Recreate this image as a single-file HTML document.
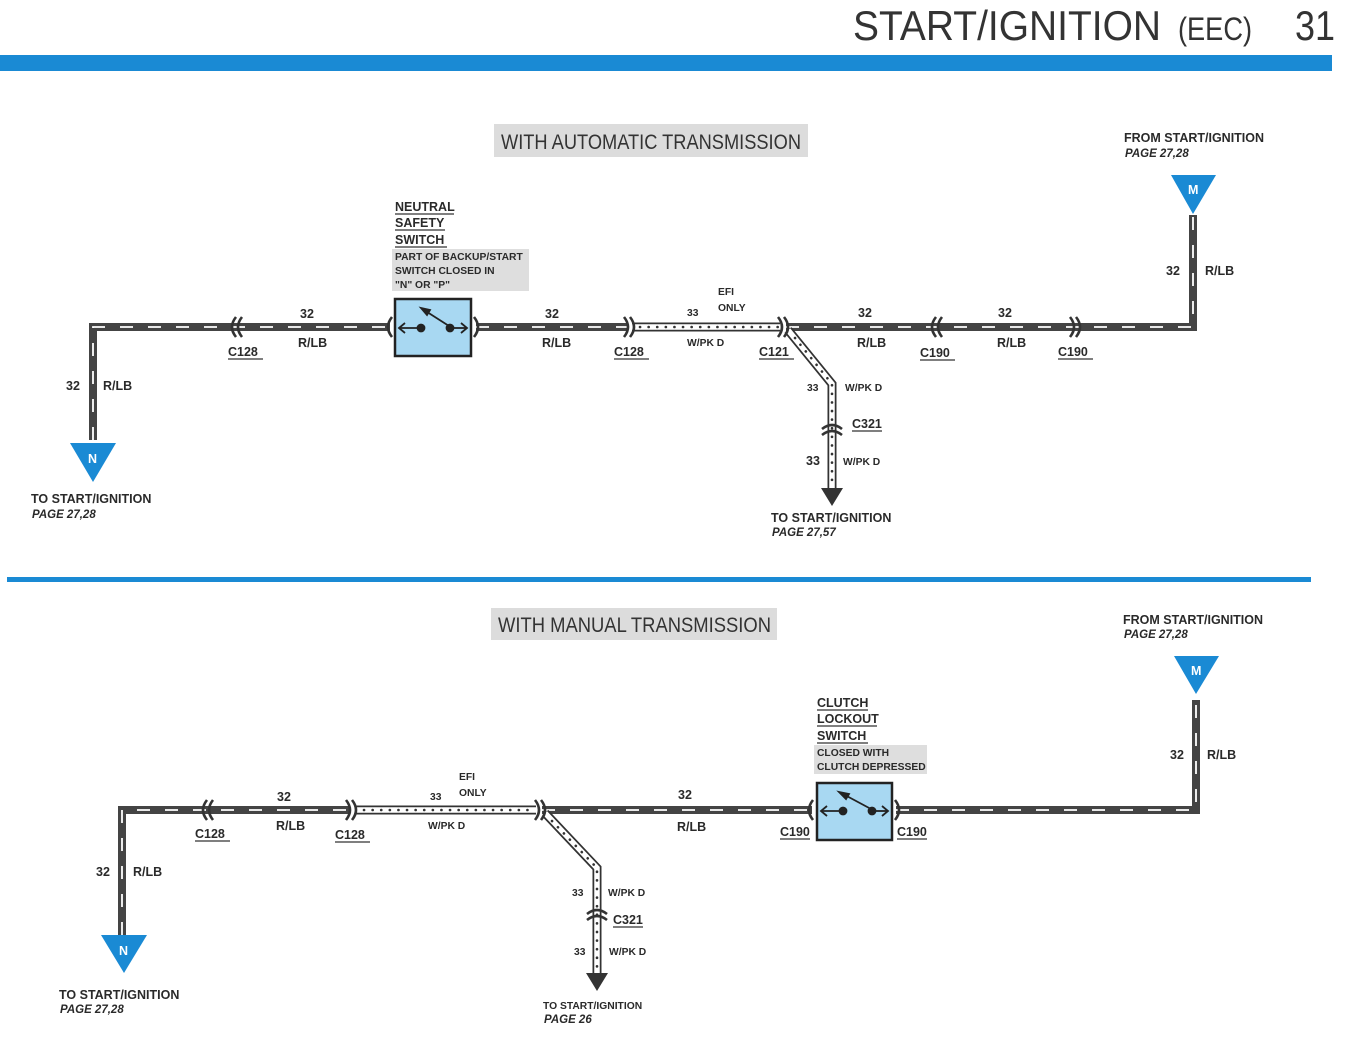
<!DOCTYPE html>
<html><head><meta charset="utf-8"><style>
html,body{margin:0;padding:0;background:#fff}
svg{display:block}
text{font-family:"Liberation Sans",Arial,sans-serif;fill:#2a2a2a}
.l{font-size:12.5px;font-weight:bold}
.i{font-size:11.5px;font-weight:bold;font-style:italic}
.s{font-size:10.3px;font-weight:bold}
.w{fill:none;stroke:#444;stroke-width:8;stroke-linejoin:miter}
.wd{fill:none;stroke:#fff;stroke-width:1.8;stroke-dasharray:13 15}
.d1{fill:none;stroke:#333;stroke-width:9}
.d2{fill:none;stroke:#fff;stroke-width:5.5}
.d3{fill:none;stroke:#333;stroke-width:2.6;stroke-dasharray:0.1 8.5;stroke-linecap:round}
.c{fill:none;stroke:#333;stroke-width:2.6}
.u{stroke:#333;stroke-width:1.3}
</style></head><body>
<svg width="1347" height="1042" viewBox="0 0 1347 1042" xmlns="http://www.w3.org/2000/svg">
<text x="853" y="40" style="font-family:'Liberation Sans Narrow','Liberation Sans',sans-serif;font-size:42px;fill:#333" textLength="308" lengthAdjust="spacingAndGlyphs">START/IGNITION</text>
<text x="1178" y="40" style="font-family:'Liberation Sans Narrow','Liberation Sans',sans-serif;font-size:32px;fill:#333" textLength="74" lengthAdjust="spacingAndGlyphs">(EEC)</text>
<text x="1295" y="40" style="font-family:'Liberation Sans Narrow','Liberation Sans',sans-serif;font-size:42px;fill:#333" textLength="40" lengthAdjust="spacingAndGlyphs">31</text>
<rect x="0" y="55" width="1332" height="16" fill="#1a8ad4"/>
<rect x="7" y="577" width="1304" height="5" fill="#1a8ad4"/>

<rect x="494" y="124" width="314" height="33" fill="#dcdcdc"/>
<text x="501" y="149" style="font-family:'Liberation Sans Narrow','Liberation Sans',sans-serif;font-size:21px;fill:#333" textLength="300" lengthAdjust="spacingAndGlyphs">WITH AUTOMATIC TRANSMISSION</text>

<path class="w" d="M93 440 V327 H390"/><path class="wd" d="M93 440 V327 H390"/>
<path class="w" d="M476 327 H628"/><path class="wd" d="M476 327 H628"/>
<path class="d1" d="M632 327 H780"/><path class="d2" d="M632 327 H780"/><path class="d3" d="M640 327 H778"/>
<path class="w" d="M786 327 H1193 V215"/><path class="wd" d="M786 327 H1193 V215"/>
<path class="d1" d="M788 330 L832 384 V490"/><path class="d2" d="M788 330 L832 384 V490"/><path class="d3" d="M795 338 L832 384 V488"/>
<polygon points="821,488 843,488 832,506" fill="#333"/>
<path class="c" d="M236 317 Q228 327 236 337 M242 317 Q234 327 242 337"/>
<path class="c" d="M392 317 Q384 327 392 337"/>
<path class="c" d="M474 317 Q482 327 474 337"/>
<path class="c" d="M624 317 Q632 327 624 337 M630 317 Q638 327 630 337"/>
<path class="c" d="M778 317 Q786 327 778 337 M784 317 Q792 327 784 337"/>
<path class="c" d="M936 317 Q928 327 936 337 M942 317 Q934 327 942 337"/>
<path class="c" d="M1070 317 Q1078 327 1070 337 M1076 317 Q1084 327 1076 337"/>
<path class="c" d="M822 429 Q832 421 842 429 M822 435 Q832 427 842 435"/>
<rect x="395" y="299" width="76" height="57" fill="#a8d8f2" stroke="#222" stroke-width="2.5"/>
<g stroke="#222" stroke-width="1.8" fill="#222">
<line x1="400" y1="328" x2="420" y2="328"/><path d="M405 323 L399 328 L405 333" fill="none"/>
<circle cx="421" cy="328" r="3.5"/><circle cx="450" cy="328" r="3.5"/>
<line x1="450" y1="328" x2="466" y2="328"/><path d="M461 323 L467 328 L461 333" fill="none"/>
<line x1="449" y1="326" x2="424" y2="310"/><polygon points="421,308 430,310 427,315"/>
</g>
<text class="l" x="395" y="211">NEUTRAL</text><line class="u" x1="395" y1="214" x2="454" y2="214"/>
<text class="l" x="395" y="227">SAFETY</text><line class="u" x1="395" y1="230" x2="445" y2="230"/>
<text class="l" x="395" y="244">SWITCH</text><line class="u" x1="395" y1="247" x2="447" y2="247"/>
<rect x="392" y="249" width="137" height="42" fill="#dedede"/>
<text class="s" x="395" y="260">PART OF BACKUP/START</text>
<text class="s" x="395" y="274">SWITCH CLOSED IN</text>
<text class="s" x="395" y="288">"N" OR "P"</text>
<text class="l" x="300" y="318">32</text><text class="l" x="298" y="347">R/LB</text>
<text class="l" x="228" y="356">C128</text><line class="u" x1="228" y1="359" x2="263" y2="359"/>
<text class="l" x="545" y="318">32</text><text class="l" x="542" y="347">R/LB</text>
<text class="l" x="614" y="356">C128</text><line class="u" x1="614" y1="359" x2="649" y2="359"/>
<text class="s" x="718" y="295">EFI</text><text class="s" x="718" y="311">ONLY</text>
<text class="s" x="687" y="316">33</text><text class="s" x="687" y="346">W/PK D</text>
<text class="l" x="759" y="356">C121</text><line class="u" x1="759" y1="359" x2="794" y2="359"/>
<text class="l" x="858" y="317">32</text><text class="l" x="857" y="347">R/LB</text>
<text class="l" x="920" y="357">C190</text><line class="u" x1="920" y1="360" x2="955" y2="360"/>
<text class="l" x="998" y="317">32</text><text class="l" x="997" y="347">R/LB</text>
<text class="l" x="1058" y="356">C190</text><line class="u" x1="1058" y1="359" x2="1093" y2="359"/>
<text class="l" x="1166" y="275">32</text><text class="l" x="1205" y="275">R/LB</text>
<text class="l" x="66" y="390">32</text><text class="l" x="103" y="390">R/LB</text>
<text class="s" x="807" y="391">33</text><text class="s" x="845" y="391">W/PK D</text>
<text class="l" x="852" y="428">C321</text><line class="u" x1="852" y1="431" x2="882" y2="431"/>
<text class="l" x="806" y="465">33</text><text class="s" x="843" y="465">W/PK D</text>
<text class="l" x="771" y="522">TO START/IGNITION</text><text class="i" x="772" y="536">PAGE 27,57</text>
<polygon points="70,443 116,443 93,482" fill="#1a8ad4"/><text x="88" y="463" class="l" style="fill:#fff">N</text>
<text class="l" x="31" y="503">TO START/IGNITION</text><text class="i" x="32" y="518">PAGE 27,28</text>
<polygon points="1171,175 1216,175 1193,214" fill="#1a8ad4"/><text x="1188" y="194" class="l" style="fill:#fff">M</text>
<text class="l" x="1124" y="142">FROM START/IGNITION</text><text class="i" x="1125" y="157">PAGE 27,28</text>

<rect x="491" y="608" width="286" height="32" fill="#dcdcdc"/>
<text x="498" y="632" style="font-family:'Liberation Sans Narrow','Liberation Sans',sans-serif;font-size:21px;fill:#333" textLength="273" lengthAdjust="spacingAndGlyphs">WITH MANUAL TRANSMISSION</text>

<path class="w" d="M122 935 V810 H350"/><path class="wd" d="M122 935 V810 H350"/>
<path class="d1" d="M356 810 H536"/><path class="d2" d="M356 810 H536"/><path class="d3" d="M364 810 H534"/>
<path class="w" d="M542 810 H812"/><path class="wd" d="M542 810 H812"/>
<path class="w" d="M896 810 H1196 V700"/><path class="wd" d="M896 810 H1196 V700"/>
<path class="d1" d="M545 813 L597 868 V975"/><path class="d2" d="M545 813 L597 868 V975"/><path class="d3" d="M552 821 L597 868 V973"/>
<polygon points="586,973 608,973 597,991" fill="#333"/>
<path class="c" d="M207 800 Q199 810 207 820 M213 800 Q205 810 213 820"/>
<path class="c" d="M346 800 Q354 810 346 820 M352 800 Q360 810 352 820"/>
<path class="c" d="M535 800 Q543 810 535 820 M541 800 Q549 810 541 820"/>
<path class="c" d="M813 800 Q805 810 813 820"/>
<path class="c" d="M895 800 Q903 810 895 820"/>
<path class="c" d="M587 914 Q597 906 607 914 M587 920 Q597 912 607 920"/>
<rect x="817" y="783" width="75" height="57" fill="#a8d8f2" stroke="#222" stroke-width="2.5"/>
<g stroke="#222" stroke-width="1.8" fill="#222">
<line x1="822" y1="811" x2="842" y2="811"/><path d="M827 806 L821 811 L827 816" fill="none"/>
<circle cx="843" cy="811" r="3.5"/><circle cx="872" cy="811" r="3.5"/>
<line x1="872" y1="811" x2="887" y2="811"/><path d="M882 806 L888 811 L882 816" fill="none"/>
<line x1="871" y1="809" x2="843" y2="794"/><polygon points="839,792 849,794 846,799"/>
</g>
<text class="l" x="817" y="707">CLUTCH</text><line class="u" x1="817" y1="710" x2="868" y2="710"/>
<text class="l" x="817" y="723">LOCKOUT</text><line class="u" x1="817" y1="726" x2="877" y2="726"/>
<text class="l" x="817" y="740">SWITCH</text><line class="u" x1="817" y1="743" x2="868" y2="743"/>
<rect x="814" y="745" width="113" height="29" fill="#dedede"/>
<text class="s" x="817" y="756">CLOSED WITH</text>
<text class="s" x="817" y="770">CLUTCH DEPRESSED</text>
<text class="l" x="277" y="801">32</text><text class="l" x="276" y="830">R/LB</text>
<text class="l" x="195" y="838">C128</text><line class="u" x1="195" y1="841" x2="230" y2="841"/>
<text class="l" x="335" y="839">C128</text><line class="u" x1="335" y1="842" x2="370" y2="842"/>
<text class="s" x="459" y="780">EFI</text><text class="s" x="459" y="796">ONLY</text>
<text class="s" x="430" y="800">33</text><text class="s" x="428" y="829">W/PK D</text>
<text class="l" x="678" y="799">32</text><text class="l" x="677" y="831">R/LB</text>
<text class="l" x="780" y="836">C190</text><line class="u" x1="780" y1="839" x2="810" y2="839"/>
<text class="l" x="897" y="836">C190</text><line class="u" x1="897" y1="839" x2="927" y2="839"/>
<text class="l" x="1170" y="759">32</text><text class="l" x="1207" y="759">R/LB</text>
<text class="l" x="96" y="876">32</text><text class="l" x="133" y="876">R/LB</text>
<text class="s" x="572" y="896">33</text><text class="s" x="608" y="896">W/PK D</text>
<text class="l" x="613" y="924">C321</text><line class="u" x1="613" y1="927" x2="643" y2="927"/>
<text class="s" x="574" y="955">33</text><text class="s" x="609" y="955">W/PK D</text>
<text class="s" x="543" y="1009">TO START/IGNITION</text><text class="i" x="544" y="1023">PAGE 26</text>
<polygon points="101,935 147,935 124,973" fill="#1a8ad4"/><text x="119" y="955" class="l" style="fill:#fff">N</text>
<text class="l" x="59" y="999">TO START/IGNITION</text><text class="i" x="60" y="1013">PAGE 27,28</text>
<polygon points="1174,656 1219,656 1196,694" fill="#1a8ad4"/><text x="1191" y="675" class="l" style="fill:#fff">M</text>
<text class="l" x="1123" y="624">FROM START/IGNITION</text><text class="i" x="1124" y="638">PAGE 27,28</text>
</svg>
</body></html>
